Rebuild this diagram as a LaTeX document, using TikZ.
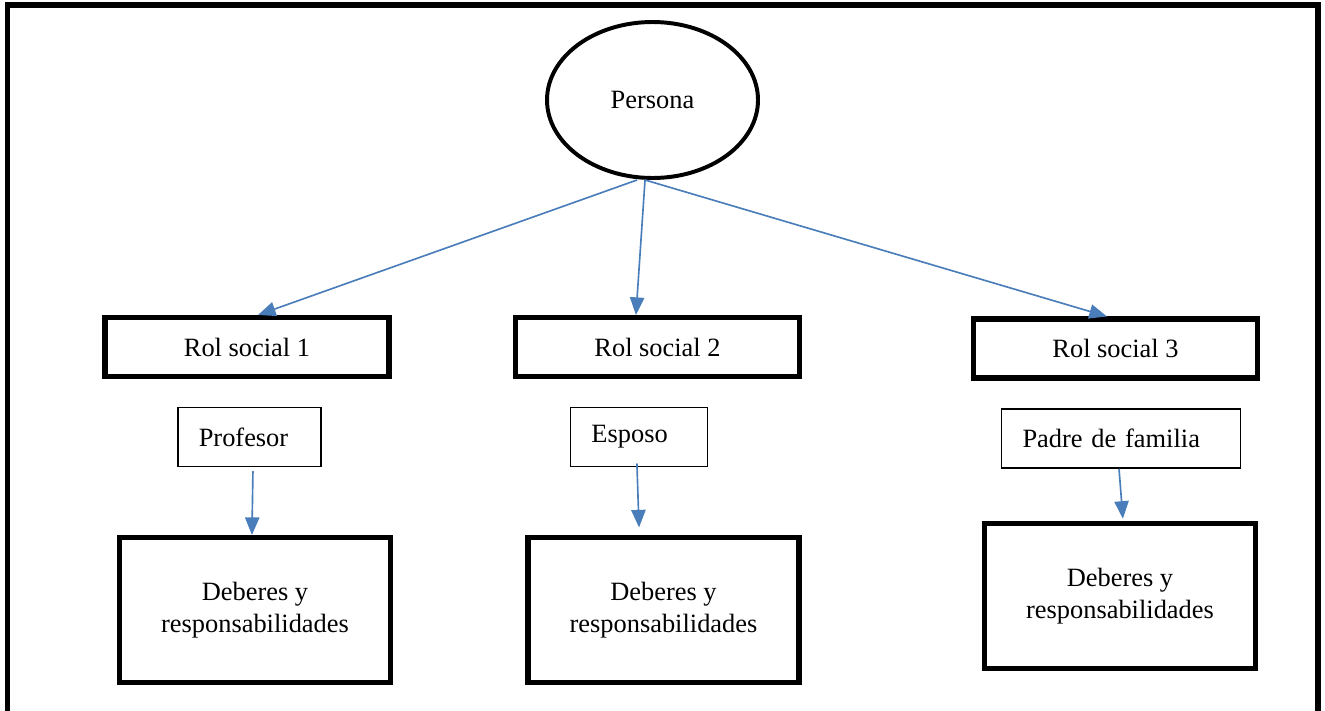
\documentclass[tikz,border=0pt]{standalone}
\usepackage{fontspec}
\setmainfont{Liberation Serif}
\usetikzlibrary{arrows.meta,shapes.geometric}
\definecolor{arrowblue}{RGB}{74,126,187}
\newcommand\pxl{0.4545pt}

\begin{document}
\begin{tikzpicture}[x=\pxl,y=-\pxl,font=\fontsize{12}{14.5}\selectfont]
\useasboundingbox (0,0) rectangle (1325,710);
\draw[line width=2.3pt] (7.5,720) -- (7.5,5) -- (1318,5) -- (1318,720);

\node[ellipse,draw,line width=1.8pt,minimum width=211*\pxl,minimum height=156*\pxl] (p) at (652.5,100) {Persona};

\begin{scope}[every node/.style={rectangle,draw,line width=2.3pt,minimum width=284*\pxl,minimum height=59*\pxl}]
	\node (r1) at (247,347) {Rol social 1};
	\node (r2) at (657.5,347) {Rol social 2};
	\node (r3) at (1115.5,348.5) {Rol social 3};
\end{scope}

\begin{scope}[every node/.style={rectangle,draw,line width=0.7pt,align=left,inner xsep=9.5pt,minimum height=59*\pxl}]
	\node[text width=46.1pt] (e1) at (249.5,437) {Profesor};
	\node[text width=43.2pt] (e2) at (639,437) {Esposo};
	\node[text width=89.5pt] (e3) at (1121,438.5) {Padre de familia};
\end{scope}

\begin{scope}[every node/.style={rectangle,draw,line width=2.3pt,align=center,minimum width=271*\pxl,minimum height=145*\pxl}]
	\node (d1) at (255,610) {Deberes y\\responsabilidades};
	\node (d2) at (663.5,610) {Deberes y\\responsabilidades};
	\node (d3) at (1120,596) {Deberes y\\responsabilidades};
\end{scope}

\begin{scope}[>={Triangle[length=8pt,width=6.5pt]},
              every edge/.style={draw=arrowblue,line width=0.75pt}]
	\path [->] ([xshift=-7pt]p.south) edge ([xshift=5pt]r1.north);
	\path [->] ([xshift=-3.4pt]p.south) edge ([xshift=-9.8pt]r2.north);
	\path [->] ([xshift=-3.4pt]p.south) edge ([xshift=-3.9pt]r3.north);
	\path [->] ([xshift=1.6pt]e1.south) edge [shorten <=1.8pt] ([xshift=-1.4pt]d1.north);
	\path [->] ([xshift=-0.9pt]e2.south) edge [shorten <=-1.8pt,shorten >=3.4pt] ([xshift=-11pt]d2.north);
	\path [->] ([xshift=-0.9pt]e3.south) edge [shorten >=1pt] ([xshift=1.4pt]d3.north);
\end{scope}
\end{tikzpicture}
\end{document}
